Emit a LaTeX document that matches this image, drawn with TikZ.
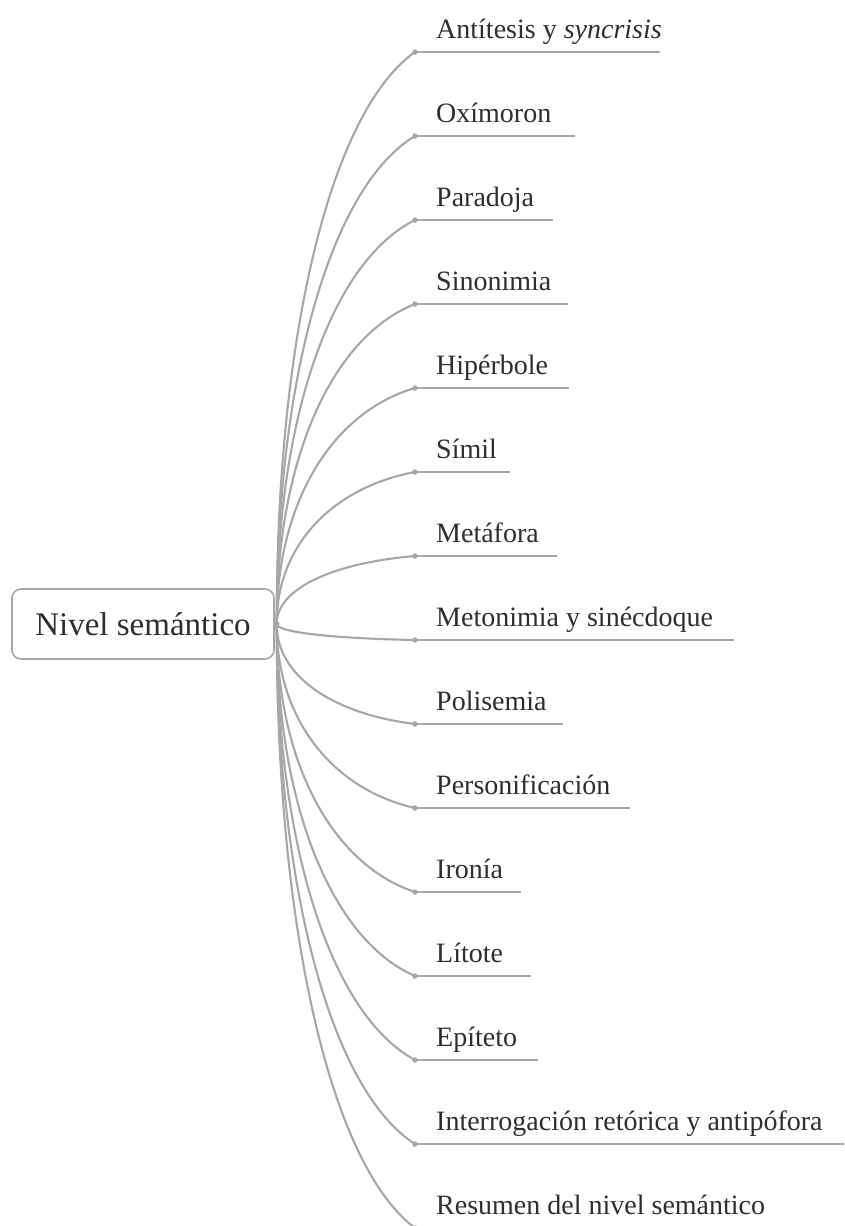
\documentclass[tikz,border=0pt]{standalone}
\usepackage{fontspec}
\setmainfont{Liberation Serif}
\definecolor{linegray}{HTML}{A7A7A9}
\definecolor{txt}{HTML}{2E2E2E}
\tikzset{
  conn/.style={draw=linegray, line width=2.1pt},
  uline/.style={draw=linegray, line width=2.1pt},
  dotnode/.style={circle, fill=linegray, inner sep=0pt, minimum size=5.5pt},
  lbl/.style={anchor=base west, inner sep=0pt, text=txt, font=\fontsize{28}{33}\selectfont},
  rootbox/.style={draw=linegray, rounded corners=9pt, line width=1.6pt,
    minimum width=262pt, minimum height=70pt, text=txt, font=\fontsize{33}{39}\selectfont}
}
\begin{document}
\begin{tikzpicture}[x=1pt,y=-1pt]
\useasboundingbox (0,0) rectangle (844,1226);
\node[rootbox] (root) at (143,624) {Nivel semántico};
\coordinate (r) at ([xshift=2pt]root.east);
\foreach \i/\y/\e/\t in {
  1/52/660/{Antítesis y \textit{syncrisis}},
  2/136/575/{Oxímoron},
  3/220/553/{Paradoja},
  4/304/568/{Sinonimia},
  5/388/569/{Hipérbole},
  6/472/510/{Símil},
  7/556/557/{Metáfora},
  8/640/734/{Metonimia y sinécdoque},
  9/724/563/{Polisemia},
  10/808/630/{Personificación},
  11/892/521/{Ironía},
  12/976/531/{Lítote},
  13/1060/538/{Epíteto},
  14/1144/844/{Interrogación retórica y antipófora},
  15/1228/790/{Resumen del nivel semántico}}
{
  \pgfmathsetmacro\ym{(624+\y)/2}
  \pgfmathsetmacro\yc{\y+0.105*(624-\y)}
  \coordinate (d\i) at (415,\y);
  \coordinate (u\i) at (\e,\y);
  \draw[conn] (r) .. controls (276,\ym) and (330,\yc) .. (d\i);
  \draw[uline] (d\i) -- (u\i);
  \node[dotnode] (dot\i) at (d\i) {};
  \node[lbl] (t\i) at (436,\y-14) {\t};
}
\node[dotnode] (rdot) at (r) {};
\end{tikzpicture}
\end{document}
